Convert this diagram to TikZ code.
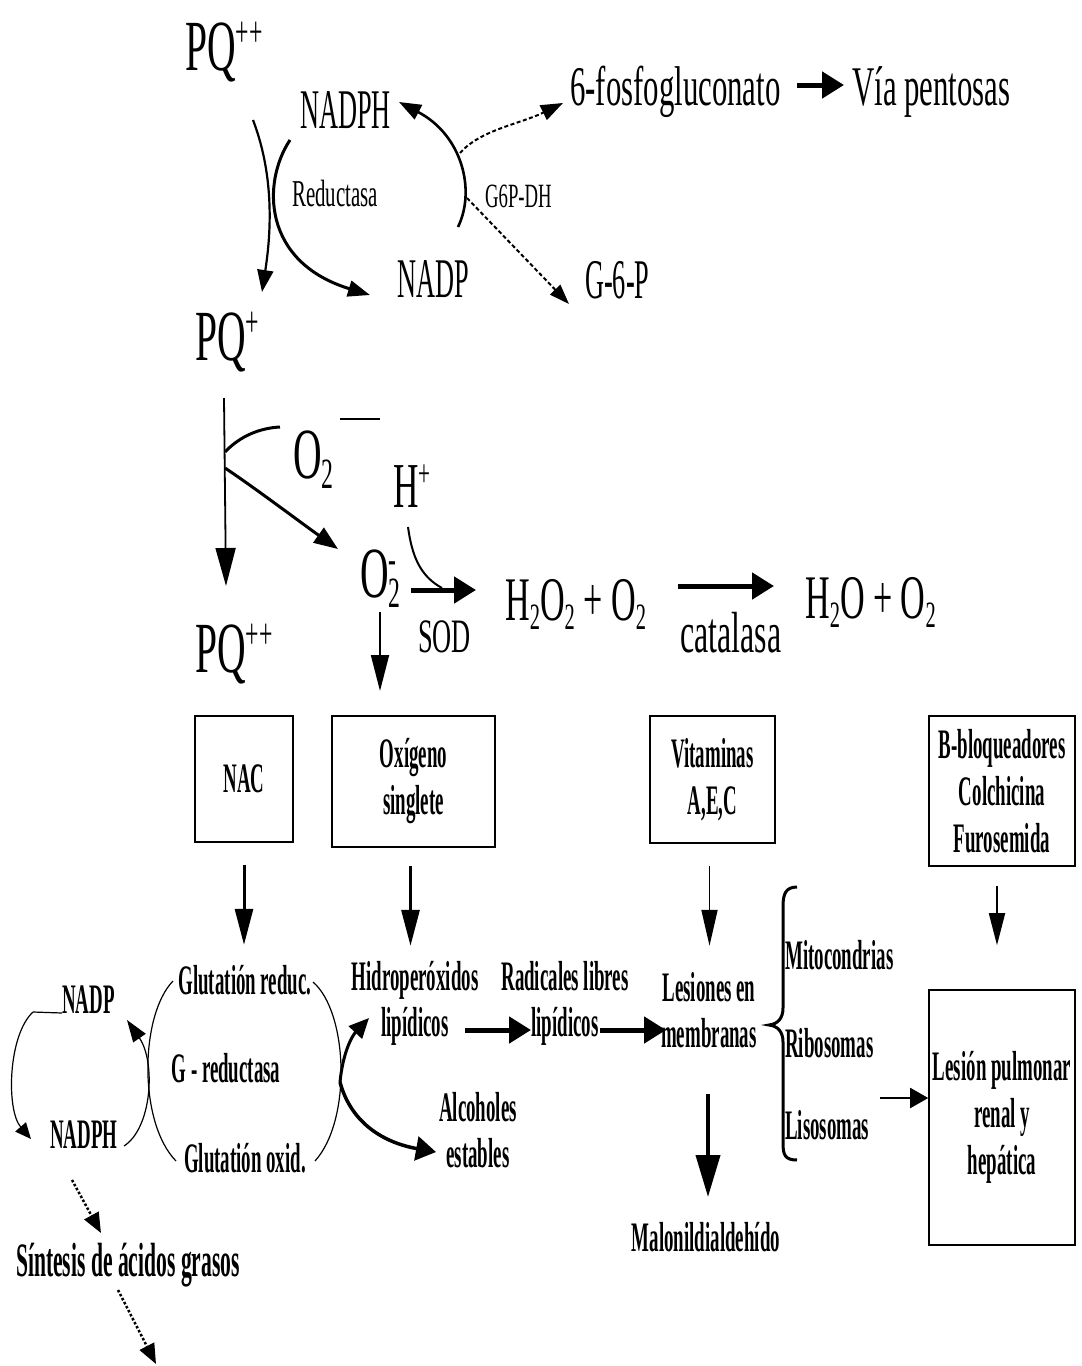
\documentclass[tikz,border=0pt]{standalone}
\usepackage{fontspec}
\usepackage{graphicx}
\setmainfont{Liberation Serif}
\newfontfamily\ftop[FakeStretch=0.55]{Liberation Serif}
\newfontfamily\ftopc[FakeStretch=0.47]{Liberation Serif}
\newfontfamily\fbot[FakeStretch=0.45]{Liberation Serif}
\newcommand\sbx[1]{\raisebox{-0.15em}{\scalebox{0.6}{#1}}}
\newcommand\spx[1]{\raisebox{0.32em}{\scalebox{0.6}{#1}}}
\usetikzlibrary{arrows.meta}
\begin{document}
\begin{tikzpicture}[x=1pt,y=-1pt,
  big/.style={font=\ftop\fontsize{72}{72}\selectfont, inner sep=0pt},
  mid/.style={font=\ftop\fontsize{56}{56}\selectfont, inner sep=0pt},
  midc/.style={font=\ftopc\fontsize{56}{56}\selectfont, inner sep=0pt},
  lab/.style={font=\ftop\fontsize{38}{38}\selectfont, inner sep=0pt},
  bt/.style={font=\fbot\bfseries\fontsize{42}{46}\selectfont, inner sep=0pt, align=center},
  boxn/.style={draw, line width=1.6pt, inner sep=0pt, align=center,
     font=\fbot\bfseries\fontsize{42}{47}\selectfont},
  fat/.style={line width=5pt, -{Triangle[length=22pt,width=26pt]}},
  boldc/.style={line width=3pt},
  thinc/.style={line width=1.2pt},
  dashc/.style={line width=2pt, dash pattern=on 4pt off 2.5pt},
  dotc/.style={line width=2.5pt, dotted, -{Triangle[length=20pt,width=16pt]}},
  tri/.style={-{Triangle[length=22pt,width=16pt]}}
]
\useasboundingbox (0,0) rectangle (1082,1366);

% ---------- top ----------
\node[big, anchor=base west] (pq1) at (185,70) {PQ\spx{++}};
\node[midc, anchor=base west] (nadph) at (300,128) {NADPH};
\node[mid, anchor=base west] (fosfo) at (570,105) {6-fosfogluconato};
\node[mid, anchor=base west] (via) at (852,105) {Vía pentosas};
\node[lab, anchor=base west] (reduc) at (292,206) {Reductasa};
\node[lab, anchor=base west, font=\ftop\fontsize{34}{34}\selectfont] (g6pdh) at (485,207) {G6P-DH};
\node[midc, anchor=base west] (nadp) at (397,297) {NADP};
\node[midc, anchor=base west] (g6p) at (585,298) {G-6-P};
\node[big, anchor=base west] (pq2) at (195,360) {PQ\spx{+}};

\draw[fat] ([shift={(16,-20)}]fosfo.base east) -- ([shift={(-8,-20)}]via.base west);

% Reductasa crossing curves
\coordinate (ra) at (253,120);
\coordinate (rb) at (262,292);
\coordinate (rc) at (290,140);
\coordinate (rd) at (370,295);
\draw[line width=2.2pt, tri] (ra) .. controls (276,180) and (270,240) .. (rb);
\draw[boldc, -{Triangle[length=22pt,width=16pt]}] (rc) .. controls (262,182) and (262,262) .. (rd);

% G6P-DH curves
\coordinate (ga) at (458,227);
\coordinate (gb) at (399,102);
\coordinate (gc) at (460,153);
\coordinate (gd) at (563,103);
\coordinate (ge) at (467,198);
\coordinate (gf) at (569,304);
\draw[line width=2.6pt, tri] (ga) .. controls (476,190) and (462,135) .. (gb);
\draw[dashc, -{Triangle[length=22pt,width=16pt]}] (gc) .. controls (480,130) and (520,124) .. (gd);
\draw[dashc, -{Triangle[length=20pt,width=14pt]}] (ge) -- (gf);

% ---------- middle ----------
\node[big, anchor=base west] (o2) at (293,478) {O\sbx{2}};
\draw[line width=2pt] (340,419) -- (380,419);
\node[big, anchor=base west, font=\ftop\fontsize{64}{64}\selectfont] (hp) at (393,507) {H\spx{+}};
\node[big, anchor=base west] (o2m) at (360,597) {O\rlap{\spx{-}}\sbx{2}};
\node[mid, anchor=base west, font=\ftop\fontsize{48}{48}\selectfont] (sod) at (418,652) {SOD};
\node[mid, anchor=base west, font=\ftop\fontsize{62}{62}\selectfont] (h2o2) at (505,620) {H\sbx{2}O\sbx{2} + O\sbx{2}};
\node[mid, anchor=base west, font=\ftop\fontsize{58}{58}\selectfont] (cat) at (680,652) {catalasa};
\node[mid, anchor=base west, font=\ftop\fontsize{62}{62}\selectfont] (h2o) at (805,618) {H\sbx{2}O + O\sbx{2}};
\node[big, anchor=base west] (pq3) at (195,672) {PQ\spx{++}};

\coordinate (pa) at (224,398);
\coordinate (pb) at (226,586);
\draw[line width=1.8pt, -{Triangle[length=38pt,width=20pt]}] (pa) -- (pb);
\draw[boldc] (225,452) .. controls (240,436) and (260,428) .. (280,427);
\coordinate (ob) at (338,549);
\draw[boldc, -{Triangle[length=24pt,width=18pt]}] (225,468) .. controls (255,488) and (300,522) .. (ob);
\draw[line width=2pt] (408,527) .. controls (412,556) and (420,576) .. (442,588);
\draw[fat] (411,590) -- (476,590);
\draw[fat] (678,586) -- (774,586);
\coordinate (oa) at (380,612);
\coordinate (oc) at (380,691);
\draw[line width=1.8pt, -{Triangle[length=36pt,width=18pt]}] (oa) -- (oc);

% ---------- boxes ----------
\node[boxn, minimum width=98pt, minimum height=126pt] (nac) at (244,779) {NAC};
\node[boxn, minimum width=163pt, minimum height=131pt] (oxi) at (413.5,781.5) {Oxígeno\\singlete};
\node[boxn, minimum width=125pt, minimum height=127pt] (vit) at (712.5,779.5) {Vitaminas\\A,E,C};
\node[boxn, minimum width=146pt, minimum height=150pt] (bbl) at (1002,791) {B-bloqueadores\\Colchicina\\Furosemida};
\node[boxn, minimum width=146pt, minimum height=255pt] (les) at (1002,1117.5) {Lesión pulmonar\\renal y\\hepática};

\draw[line width=3pt, -{Triangle[length=36pt,width=18pt]}] ([yshift=-22pt]nac.south) -- ++(0,80);
\draw[line width=3pt, -{Triangle[length=36pt,width=18pt]}] ([shift={(-3,18)}]oxi.south) -- ++(0,80);
\draw[line width=1.8pt, -{Triangle[length=36pt,width=16pt]}] ([shift={(-3,22)}]vit.south) -- ++(0,80);
\draw[line width=1.8pt, -{Triangle[length=32pt,width=16pt]}] ([shift={(-5,19)}]bbl.south) -- ([shift={(-5,-44)}]les.north);

% ---------- bottom ----------
\node[bt, anchor=base west] (nadp2) at (62,1013) {NADP};
\node[bt, anchor=base west] (nadph2) at (50,1148) {NADPH};
\node[bt] (glr) at (245,980) {Glutatión reduc.};
\node[bt] (grd) at (226,1068) {G - reductasa};
\node[bt] (glo) at (245,1158) {Glutatión oxid.};
\node[bt] (hid) at (415,1003) {Hidroperóxidos\\lipídicos};
\node[bt] (rad) at (565,1003) {Radicales libres\\lipídicos};
\node[bt] (lsm) at (709,1010) {Lesiones en\\membranas};
\node[bt] (alc) at (478,1130) {Alcoholes\\estables};
\node[bt] (mal) at (706,1237) {Malonildialdehído};
\node[bt, anchor=west] (mit) at (785,955) {Mitocondrias};
\node[bt, anchor=west] (rib) at (785,1043) {Ribosomas};
\node[bt, anchor=west] (lis) at (785,1125) {Lisosomas};
\node[bt, font=\fbot\bfseries\fontsize{48}{48}\selectfont] (sin) at (128,1265) {Síntesis de ácidos grasos};

% NADP / NADPH loop
\coordinate (la) at (33,1012);
\coordinate (lb) at (31,1139);
\draw[thinc] (nadp2.base west) -- (la);
\draw[thinc, -{Triangle[length=16pt,width=14pt]}] (la) .. controls (8,1035) and (6,1110) .. (lb);
\coordinate (lc) at (124,1146);
\coordinate (ld) at (127,1020);
\draw[thinc, -{Triangle[length=22pt,width=15pt]}] (lc) .. controls (152,1128) and (156,1062) .. (ld);
% glutathione oval
\draw[thinc] (173,981) .. controls (140,1015) and (138,1122) .. (176,1161);
\draw[thinc] (313,982) .. controls (348,1012) and (352,1120) .. (315,1161);
% to hidroperoxidos / alcoholes
\coordinate (ha) at (340,1082);
\coordinate (hb) at (369,1018);
\coordinate (hc) at (436,1152);
\draw[boldc, -{Triangle[length=20pt,width=18pt]}] (ha) .. controls (343,1052) and (352,1036) .. (hb);
\draw[line width=3.5pt, -{Triangle[length=20pt,width=24pt]}] (ha) .. controls (350,1120) and (380,1142) .. (hc);

\draw[fat] (465,1030) -- (531,1030);
\draw[fat] (600,1030) -- (666,1030);
\coordinate (ma) at (708,1094);
\coordinate (mb) at (708,1197);
\draw[line width=4pt, -{Triangle[length=42pt,width=24pt]}] (ma) -- (mb);

% brace
\draw[line width=3pt] (797,887) .. controls (785,887) and (783,895) .. (783,907)
   -- (783,1008) .. controls (783,1018) and (778,1024) .. (769,1025)
   .. controls (778,1026) and (783,1032) .. (783,1042)
   -- (783,1143) .. controls (783,1155) and (785,1160) .. (797,1160);
\coordinate (aa) at (880,1098);
\draw[line width=2pt, -{Triangle[length=18pt,width=20pt]}] (aa) -- ([yshift=19.5pt]les.west);

% dotted arrows
\coordinate (sa) at (72,1180);
\coordinate (sb) at (101,1233);
\coordinate (sc) at (118,1290);
\coordinate (sd) at (156,1364);
\draw[dotc] (sa) -- (sb);
\draw[dotc] (sc) -- (sd);
\end{tikzpicture}
\end{document}
